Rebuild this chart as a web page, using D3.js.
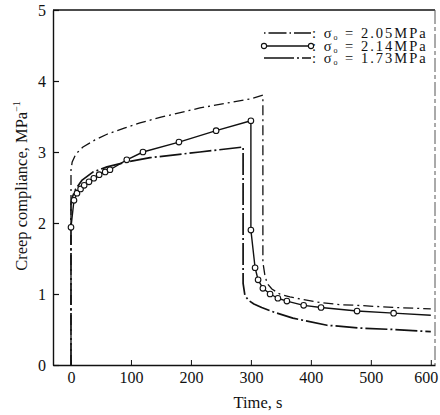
<!DOCTYPE html>
<html>
<head>
<meta charset="utf-8">
<script src="https://cdn.jsdelivr.net/npm/d3@7"></script>
<style>
  html, body { margin: 0; padding: 0; background: #fff; }
  svg text { font-family: "Liberation Serif", "DejaVu Serif", serif; fill: #111; }
</style>
</head>
<body>
<svg id="chart" width="440" height="415"></svg>
<script>
// ---- data ----
const xTicks = [0, 100, 200, 300, 400, 500, 600];
const yTicks = [0, 1, 2, 3, 4, 5];
const legendLabels = ["2.05MPa", "2.14MPa", "1.73MPa"];

// sigma = 2.05 MPa (dash-dot)
const t205 = [0, 0, 2, 8, 20, 40, 60, 90, 115, 150, 215, 260, 300, 320, 320, 323, 327, 335, 348, 365, 382, 415, 448, 477, 540, 600];
const j205 = [0, 2.75, 2.86, 2.97, 3.07, 3.17, 3.25, 3.34, 3.41, 3.49, 3.62, 3.69, 3.75, 3.80, 1.45, 1.28, 1.15, 1.07, 1.0, 0.96, 0.93, 0.88, 0.85, 0.84, 0.81, 0.79];

// sigma = 2.14 MPa (solid with circles)
const t214 = [0, 5, 10, 16, 22, 30, 38, 47, 57, 65, 93, 120, 180, 242, 300, 300, 307, 312, 320, 332, 345, 360, 388, 417, 477, 538, 600];
const j214 = [1.94, 2.32, 2.42, 2.48, 2.53, 2.58, 2.63, 2.68, 2.72, 2.75, 2.89, 3.0, 3.14, 3.30, 3.44, 1.9, 1.37, 1.2, 1.08, 1.0, 0.94, 0.9, 0.84, 0.81, 0.76, 0.73, 0.70];
const m214 = [1, 1, 1, 1, 1, 1, 1, 1, 1, 1, 1, 1, 1, 1, 1, 1, 1, 1, 1, 1, 1, 1, 1, 1, 1, 1, 0];

// sigma = 1.73 MPa (long dash)
const t173 = [0, 0, 3, 8, 18, 37, 60, 93, 132, 215, 287, 287, 290, 296, 305, 318, 340, 370, 427, 482, 537, 600];
const j173 = [0, 2.28, 2.38, 2.48, 2.6, 2.72, 2.79, 2.86, 2.92, 3.0, 3.07, 1.15, 0.98, 0.91, 0.86, 0.81, 0.74, 0.66, 0.56, 0.52, 0.50, 0.47];

// ---- chart ----
const svg = d3.select("#chart");
const x = d3.scaleLinear().domain([-30, 607]).range([53, 435]);
const y = d3.scaleLinear().domain([0, 5]).range([365, 10]);

// frame: top and right
svg.append("line").attr("x1", x(-30)).attr("x2", x(607)).attr("y1", y(5)).attr("y2", y(5))
  .attr("stroke", "#111").attr("stroke-width", 1.4);
svg.append("line").attr("x1", x(607)).attr("x2", x(607)).attr("y1", y(5)).attr("y2", y(0))
  .attr("stroke", "#555").attr("stroke-width", 1).attr("stroke-dasharray", "14,3,4,3");

// left axis
const gy = svg.append("g").attr("transform", `translate(${x(-30)},0)`)
  .call(d3.axisLeft(y).tickValues(yTicks).tickFormat(d3.format("d")).tickSizeInner(-6).tickSizeOuter(0).tickPadding(7));
gy.select(".domain").attr("stroke", "#111").attr("stroke-width", 1.4);
gy.selectAll(".tick line").attr("stroke", "#111").attr("stroke-width", 1.2);
gy.selectAll(".tick text").attr("font-size", 16).attr("fill", "#111");

// bottom axis
const gx = svg.append("g").attr("transform", `translate(0,${y(0)})`)
  .call(d3.axisBottom(x).tickValues(xTicks).tickFormat(d3.format("d")).tickSizeInner(-5).tickSizeOuter(0).tickPadding(7));
gx.select(".domain").attr("stroke", "#111").attr("stroke-width", 1.6);
gx.selectAll(".tick line").attr("stroke", "#111").attr("stroke-width", 1);
gx.selectAll(".tick text").attr("font-size", 16).attr("fill", "#111")
  .attr("dx", d => d === 600 ? -5 : 0);

// axis titles
svg.append("text").attr("x", 258).attr("y", 408).attr("text-anchor", "middle").attr("font-size", 16.5).text("Time, s");
const yl = svg.append("text").attr("transform", "translate(27,186) rotate(-90)").attr("text-anchor", "middle").attr("font-size", 16.5);
yl.append("tspan").text("Creep compliance, MPa");
yl.append("tspan").attr("dy", -7).attr("font-size", 10).text("−1");

// lines
const line = d3.line().x(d => x(d[0])).y(d => y(d[1]));
const d205 = t205.map((t, i) => [t, j205[i]]);
const d214 = t214.map((t, i) => [t, j214[i]]);
const d173 = t173.map((t, i) => [t, j173[i]]);

const styles = [
  { data: d205, dash: "10,4,2,4", w: 1.3 },
  { data: d214, dash: null, w: 1.4 },
  { data: d173, dash: "22,3,2,3", w: 1.7 }
];
styles.forEach(s => {
  svg.append("path").datum(s.data).attr("d", line).attr("fill", "none")
    .attr("stroke", "#111").attr("stroke-width", s.w)
    .attr("stroke-dasharray", s.dash).attr("stroke-linejoin", "round");
});

svg.selectAll("circle.m").data(d214.filter((d, i) => m214[i])).enter().append("circle")
  .attr("class", "m").attr("cx", d => x(d[0])).attr("cy", d => y(d[1])).attr("r", 2.8)
  .attr("fill", "#fff").attr("stroke", "#111").attr("stroke-width", 1.1);

// legend
const legY = [33, 46, 58];
const lx1 = 264, lx2 = 311;
legendLabels.forEach((lab, i) => {
  const st = styles[i];
  svg.append("line").attr("x1", lx1).attr("x2", lx2).attr("y1", legY[i]).attr("y2", legY[i])
    .attr("stroke", "#111").attr("stroke-width", st.w).attr("stroke-dasharray", i === 0 ? "1.5,3,18,3" : (i === 2 ? "30,3,2,3" : null));
  if (i === 1) {
    [lx1, lx2].forEach(cx => svg.append("circle").attr("cx", cx).attr("cy", legY[i]).attr("r", 2.6)
      .attr("fill", "#fff").attr("stroke", "#111").attr("stroke-width", 1.1));
  }
  const tx = svg.append("text").attr("x", lx2 + 1).attr("y", legY[i] + 4.5).attr("font-size", 14.5)
    .attr("letter-spacing", 2);
  tx.append("tspan").text(": σ");
  tx.append("tspan").attr("font-size", 8).attr("dy", 2).text("o");
  tx.append("tspan").attr("dy", -2).text(" = " + lab);
});
</script>
</body>
</html>
